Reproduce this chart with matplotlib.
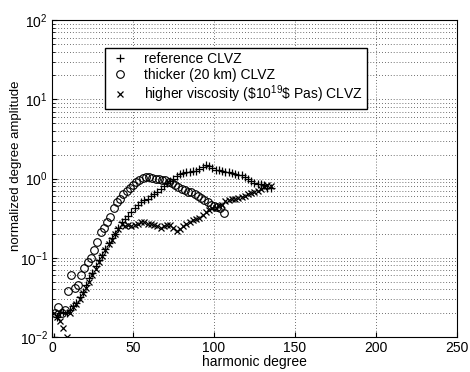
import numpy as np
import matplotlib.pyplot as plt

plt.rcParams['font.family'] = ['Liberation Sans', 'DejaVu Sans']
plt.rcParams['mathtext.fontset'] = 'custom'
plt.rcParams['mathtext.rm'] = 'Liberation Sans'

# grados armónicos y amplitudes
grados_o = np.arange(2, 107, 2)
grueso = [0.020, 0.024, 0.020, 0.022, 0.038,
          0.060, 0.042, 0.046, 0.060, 0.075,
          0.088, 0.10, 0.125, 0.16, 0.21,
          0.24, 0.28, 0.33, 0.42, 0.50,
          0.56, 0.63, 0.70, 0.76, 0.82,
          0.90, 0.95, 1.02, 1.05, 1.04,
          1.02, 1.00, 0.98, 0.97, 0.95,
          0.90, 0.87, 0.83, 0.78, 0.74,
          0.72, 0.68, 0.67, 0.64, 0.60,
          0.57, 0.54, 0.50, 0.47, 0.45,
          0.44, 0.42, 0.37]

grados = np.arange(1, 136, 2)
referencia = [0.010, 0.018, 0.020, 0.021, 0.020,
              0.022, 0.025, 0.027, 0.032, 0.037,
              0.045, 0.055, 0.065, 0.078, 0.095,
              0.11, 0.13, 0.155, 0.18, 0.20,
              0.24, 0.28, 0.31, 0.34, 0.38,
              0.42, 0.46, 0.50, 0.53, 0.56,
              0.60, 0.63, 0.68, 0.74, 0.80,
              0.87, 0.93, 1.00, 1.08, 1.15,
              1.18, 1.20, 1.22, 1.25, 1.26,
              1.32, 1.40, 1.48, 1.45, 1.35,
              1.30, 1.28, 1.25, 1.22, 1.20,
              1.18, 1.15, 1.12, 1.10, 1.05,
              0.98, 0.92, 0.88, 0.85, 0.86,
              0.82, 0.76, 0.75]
viscoso = [0.020, 0.018, 0.016, 0.013, 0.010,
           0.020, 0.024, 0.026, 0.030, 0.036,
           0.042, 0.050, 0.060, 0.072, 0.088,
           0.105, 0.125, 0.15, 0.17, 0.20,
           0.23, 0.27, 0.25, 0.26, 0.25,
           0.26, 0.27, 0.28, 0.28, 0.27,
           0.27, 0.26, 0.25, 0.24, 0.25,
           0.26, 0.26, 0.24, 0.22, 0.23,
           0.25, 0.27, 0.28, 0.30, 0.31,
           0.32, 0.35, 0.38, 0.40, 0.42,
           0.43, 0.45, 0.47, 0.52, 0.54,
           0.55, 0.56, 0.57, 0.58, 0.60,
           0.63, 0.66, 0.68, 0.70, 0.73,
           0.78, 0.82, 0.80]

fig = plt.figure(figsize=(4.7, 3.72), dpi=100)
ax = fig.add_axes([0.1106, 0.094, 0.8617, 0.852])

ax.plot(grados, referencia, '+', color='k', ms=6, mew=0.9, label='reference CLVZ')
ax.plot(grados_o, grueso, 'o', color='k', mfc='none', ms=5.5, mew=0.8, label='thicker (20 km) CLVZ')
ax.plot(grados, viscoso, 'x', color='k', ms=4.5, mew=0.9,
        label=r'higher viscosity (\$10$^{19}$\$ Pas) CLVZ')

ax.set_yscale('log')
ax.set_xlim(0, 250)
ax.set_ylim(1e-2, 1e2)
ax.set_xticks([0, 50, 100, 150, 200, 250])

# rejilla punteada estilo MATLAB
punteado = (0, (1, 2.5))
ax.grid(True, which='major', linestyle=punteado, color='0.25', linewidth=0.6)
ax.grid(True, which='minor', axis='y', linestyle=punteado, color='0.25', linewidth=0.6)
ax.tick_params(which='both', direction='in', labelsize=10, pad=3)

ax.set_xlabel('harmonic degree', fontsize=10, labelpad=0)
ax.set_ylabel('normalized degree amplitude', fontsize=9.5, labelpad=0)
ax.yaxis.set_label_coords(-0.075, 0.54)

ax.legend(loc='upper left', bbox_to_anchor=(0.131, 0.912), fontsize=10, frameon=True,
          fancybox=False, edgecolor='k', framealpha=1, handlelength=1.6,
          borderpad=0.3, borderaxespad=0, labelspacing=0.12, handletextpad=0.9)

plt.savefig('out.png', dpi=100)
